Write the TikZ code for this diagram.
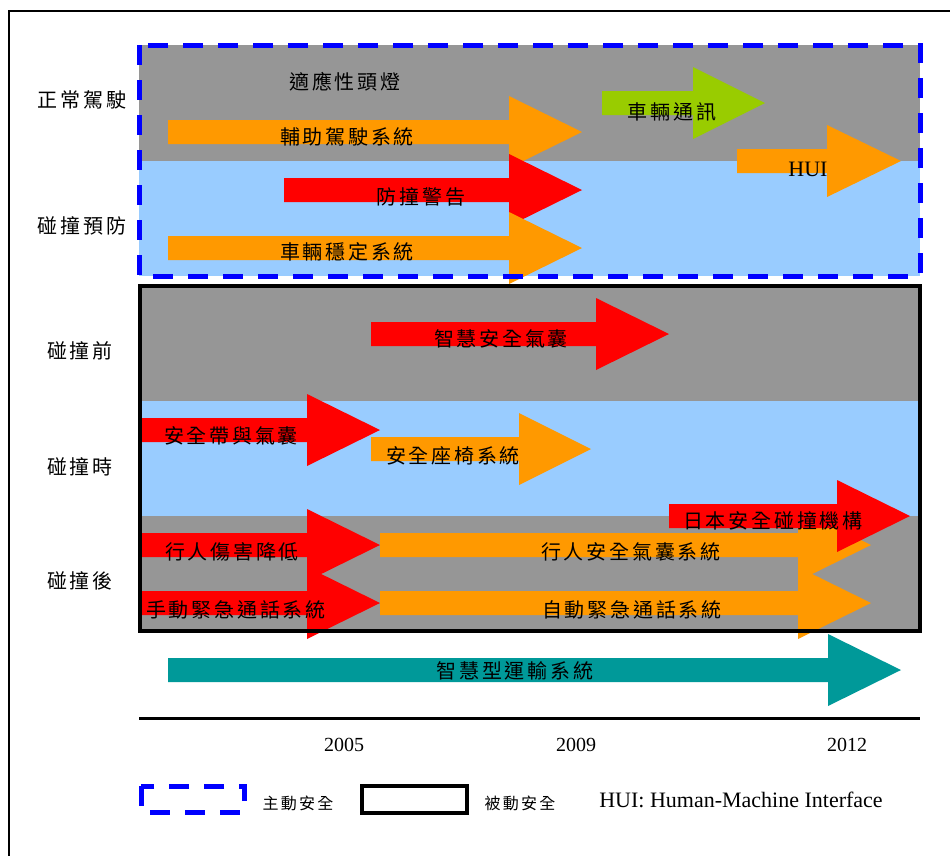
\documentclass[tikz,border=0pt]{standalone}
\usepackage{fontspec}
\setmainfont{Liberation Serif}
\newfontfamily\cjk[LetterSpace=14]{Noto Sans CJK TC}
\definecolor{bandgray}{HTML}{969696}
\definecolor{bandblue}{HTML}{99CCFF}
\definecolor{aorange}{HTML}{FF9900}
\definecolor{ared}{HTML}{FF0000}
\definecolor{agreen}{HTML}{99CC00}
\definecolor{ateal}{HTML}{009999}
\definecolor{dblue}{HTML}{0000FF}
\newcommand\harrow[5]{%
  \fill[#1] (#2,#5-12) -- (#3,#5-12) -- (#3,#5-36) -- (#4,#5) -- (#3,#5+36) -- (#3,#5+12) -- (#2,#5+12) -- cycle;}
\tikzset{
  lbl/.style={font=\cjk\fontsize{20}{24}\selectfont, inner sep=0pt},
  leg/.style={font=\cjk\fontsize{16}{19}\selectfont, inner sep=0pt},
  lat/.style={font=\fontsize{20}{24}\selectfont, inner sep=0pt},
  activebox/.style={draw=dblue, line width=5pt, dash pattern=on 20pt off 15pt},
  passivebox/.style={draw=black, line width=4.5pt},
}
\begin{document}
\begin{tikzpicture}[x=1pt,y=-1pt]
\useasboundingbox (0,0) rectangle (950,855);
\fill[white] (0,0) rectangle (950,855);
% outer frame
\draw[line width=2pt] (9,856) -- (9,11) -- (951,11);
% bands
\fill[bandgray] (139,45) rectangle (920,161);
\fill[bandblue] (139,161) rectangle (920,276);
\fill[bandgray] (140,286) rectangle (920,401);
\fill[bandblue] (140,401) rectangle (920,516);
\fill[bandgray] (140,516) rectangle (920,631);
% arrows
\harrow{aorange}{168}{509}{582}{132}
\harrow{ared}{284}{509}{582}{190}
\harrow{aorange}{168}{509}{582}{248}
\harrow{agreen}{602}{693}{765}{103}
\harrow{aorange}{737}{827}{901}{161}
\harrow{ared}{371}{596}{669}{334}
\harrow{ared}{140}{307}{380}{430}
\harrow{aorange}{371}{519}{591}{449}
\harrow{ared}{140}{307}{380}{545}
\harrow{ared}{140}{307}{380}{603}
\harrow{aorange}{380}{798}{871}{545}
\harrow{aorange}{380}{798}{871}{603}
\harrow{ared}{669}{837}{910}{516}
\harrow{ateal}{168}{828}{901}{670}
% borders
\draw[activebox] (139,45) rectangle (920,276);
\draw[passivebox] (140,286) rectangle (920,631);
% axis
\draw[line width=3pt] (139,718) -- (920,718);
% row labels
\node[lbl] (r1) at (82,100) {正常駕駛};
\node[lbl] (r2) at (82,226) {碰撞預防};
\node[lbl] (r3) at (80,351) {碰撞前};
\node[lbl] (r4) at (80,467) {碰撞時};
\node[lbl] (r5) at (80,581) {碰撞後};
% arrow labels
\node[lbl] (t1) at (345,82) {適應性頭燈};
\node[lbl] (t2) at (347,137) {輔助駕駛系統};
\node[lbl] (t3) at (421,197) {防撞警告};
\node[lbl] (t4) at (347,252) {車輛穩定系統};
\node[lbl] (t5) at (672,112) {車輛通訊};
\node[lat, font=\fontsize{22}{26}\selectfont] (t6) at (808,169) {HUI};
\node[lbl] (t7) at (501,339) {智慧安全氣囊};
\node[lbl] (t8) at (231,436) {安全帶與氣囊};
\node[lbl] (t9) at (453,456) {安全座椅系統};
\node[lbl] (t10) at (773,521) {日本安全碰撞機構};
\node[lbl] (t11) at (232,552) {行人傷害降低};
\node[lbl] (t12) at (236,610) {手動緊急通話系統};
\node[lbl] (t13) at (631,552) {行人安全氣囊系統};
\node[lbl] (t14) at (632,610) {自動緊急通話系統};
\node[lbl] (t15) at (515,671) {智慧型運輸系統};
% years
\node[lat] (y1) at (344,745) {2005};
\node[lat] (y2) at (576,745) {2009};
\node[lat] (y3) at (847,745) {2012};
% legend
\draw[activebox] (141,786) rectangle (244,812);
\node[leg] (l1) at (298,803) {主動安全};
\draw[passivebox] (362,786) rectangle (467,813);
\node[leg] (l2) at (520,803) {被動安全};
\node[lat, font=\fontsize{22}{26}\selectfont] (l3) at (741,800) {HUI: Human-Machine Interface};
\end{tikzpicture}
\end{document}
